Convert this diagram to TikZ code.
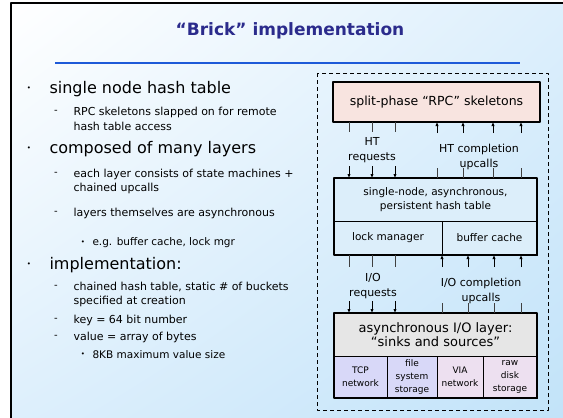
\documentclass[tikz,border=0pt]{standalone}
\usepackage{fontspec}
\setmainfont{DejaVu Sans}
\usetikzlibrary{arrows.meta,positioning,shadings}
\definecolor{brickNavy}{HTML}{2B2B8C}
\definecolor{brickRule}{HTML}{1E5AD8}
\definecolor{brickSky}{HTML}{C2E3F9}
\definecolor{brickSkyTwo}{HTML}{DDEFFC}
\definecolor{brickPink}{HTML}{F8E4E0}
\definecolor{brickIce}{HTML}{DCEEFA}
\definecolor{brickGrey}{HTML}{E6E6E6}
\definecolor{brickLav}{HTML}{D8D8F8}
\definecolor{brickMauve}{HTML}{EDE0F0}

\begin{document}
\begin{tikzpicture}[x=1pt,y=-1pt,>={Latex[length=4pt,width=3.4pt]},line join=round]
\useasboundingbox (0,0) rectangle (563,418);
\shade[upper left=white,upper right=brickSkyTwo,lower left=brickSkyTwo,lower right=brickSky] (11,3) rectangle (563,418);
\draw[line width=2pt] (11,418) -- (11,3) -- (563,3);
\node[text=brickNavy,font=\bfseries\fontsize{17}{20}\selectfont] (title) at (290,31) {“Brick” implementation};
\draw[brickRule,line width=2.2pt] (55,63) -- (520,63);
\tikzset{lvlone/.style={anchor=west,font=\fontsize{16}{18}\selectfont},lvltwo/.style={anchor=west,align=left,font=\fontsize{11}{14.5}\selectfont},lvlthree/.style={anchor=west,font=\fontsize{10.5}{12}\selectfont},bulletmark/.style={font=\fontsize{7}{8}\selectfont},dashmark/.style={font=\fontsize{10}{12}\selectfont}}
% bullet list
\node[bulletmark] (b1) at (29,89) {•}; \node[lvlone] (single) at (46,89) {single node hash table};
\node[dashmark] (d1) at (56,112) {-}; \node[lvltwo] (rpctext) at (70,119) {RPC skeletons slapped on for remote\\hash table access};
\node[bulletmark] (b2) at (29,149) {•}; \node[lvlone] (layers) at (46,149) {composed of many layers};
\node[dashmark] (d2) at (56,174) {-}; \node[lvltwo] (consists) at (70,181.5) {each layer consists of state machines +\\chained upcalls};
\node[dashmark] (d3) at (56,213) {-}; \node[lvltwo] (async) at (70,213) {layers themselves are asynchronous};
\node[bulletmark] (s1) at (83,243) {•}; \node[lvlthree] (eg) at (89,243) {e.g. buffer cache, lock mgr};
\node[bulletmark] (b3) at (29,265) {•}; \node[lvlone] (impl) at (46,265) {implementation:};
\node[dashmark] (d4) at (56,287) {-}; \node[lvltwo] (chained) at (70,294.5) {chained hash table, static \# of buckets\\specified at creation};
\node[dashmark] (d5) at (56,320) {-}; \node[lvltwo] (key) at (70,320) {key = 64 bit number};
\node[dashmark] (d6) at (56,337) {-}; \node[lvltwo] (value) at (70,337) {value = array of bytes};
\node[bulletmark] (s2) at (83,355) {•}; \node[lvlthree] (maxsize) at (89,355) {8KB maximum value size};
% layer diagram
\tikzset{box/.style={draw=black,line width=1pt,inner sep=0pt,outer sep=0pt,align=center,font=\fontsize{10.5}{14}\selectfont},cell/.style={box,minimum height=42,font=\fontsize{9}{13}\selectfont},outline/.style={draw=black,line width=2pt},stub/.style={draw=black!75,line width=0.8pt},arr/.style={draw=black,line width=0.8pt,->},lbl/.style={align=center,font=\fontsize{11}{15}\selectfont}}
\draw[dashed,dash pattern=on 4pt off 3pt,line width=0.9pt] (317,73) rectangle (548,410);
\node[box,outline,fill=brickPink,minimum width=207,minimum height=40,font=\fontsize{12.5}{14}\selectfont] (rpc) at (436.5,102) {split-phase “RPC” skeletons};
\node[box,fill=brickIce,minimum width=203,minimum height=43] (ht) at (435.5,199.5) {single-node, asynchronous,\\persistent hash table};
\node[box,fill=brickIce,minimum width=108,minimum height=34,anchor=north west] (lock) at (ht.south west) {lock manager};
\node[box,fill=brickIce,minimum width=95,minimum height=34,right=0pt of lock] (bufc) {buffer cache};
\draw[outline] (ht.north west) rectangle (bufc.south east);
\node[box,fill=brickGrey,minimum width=203,minimum height=43,font=\fontsize{13}{14.5}\selectfont] (aio) at (435.5,334.5) {asynchronous I/O layer:\\“sinks and sources”};
\node[cell,fill=brickLav,minimum width=53,anchor=north west] (tcp) at (aio.south west) {TCP\\network};
\node[cell,fill=brickLav,minimum width=50,right=0pt of tcp] (fsys) {file\\system\\storage};
\node[cell,fill=brickMauve,minimum width=46,right=0pt of fsys] (via) {VIA\\network};
\node[cell,fill=brickMauve,minimum width=54,right=0pt of via] (rawd) {raw\\disk\\storage};
\draw[outline] (aio.north west) rectangle (rawd.south east);
% HT requests / completion upcalls
\draw[stub] (rpc.south -| 349,0) -- ++(0,10); \draw[arr] ([yshift=12pt]ht.north -| 349,0) -- (ht.north -| 349,0);
\draw[stub] (rpc.south -| 372,0) -- ++(0,10); \draw[arr] ([yshift=12pt]ht.north -| 372,0) -- (ht.north -| 372,0);
\draw[stub] (rpc.south -| 395,0) -- ++(0,10); \draw[arr] ([yshift=12pt]ht.north -| 395,0) -- (ht.north -| 395,0);
\draw[arr] ([yshift=-11pt]rpc.south -| 437,0) -- (rpc.south -| 437,0); \draw[stub] (ht.north -| 437,0) -- ++(0,-10);
\draw[arr] ([yshift=-11pt]rpc.south -| 463,0) -- (rpc.south -| 463,0); \draw[stub] (ht.north -| 463,0) -- ++(0,-10);
\draw[arr] ([yshift=-11pt]rpc.south -| 493,0) -- (rpc.south -| 493,0); \draw[stub] (ht.north -| 493,0) -- ++(0,-10);
\draw[arr] ([yshift=-11pt]rpc.south -| 521,0) -- (rpc.south -| 521,0); \draw[stub] (ht.north -| 521,0) -- ++(0,-10);
\node[lbl] (htreq) at (372,150) {HT\\requests};
\node[lbl] (htup) at (479,156.5) {HT completion\\upcalls};
% I/O requests / completion upcalls
\draw[stub] (lock.south -| 349,0) -- ++(0,12); \draw[arr] ([yshift=12pt]aio.north -| 349,0) -- (aio.north -| 349,0);
\draw[stub] (lock.south -| 372,0) -- ++(0,12); \draw[arr] ([yshift=12pt]aio.north -| 372,0) -- (aio.north -| 372,0);
\draw[stub] (lock.south -| 395,0) -- ++(0,12); \draw[arr] ([yshift=12pt]aio.north -| 395,0) -- (aio.north -| 395,0);
\draw[arr] ([yshift=-12pt]bufc.south -| 442,0) -- (bufc.south -| 442,0); \draw[stub] (aio.north -| 442,0) -- ++(0,-10);
\draw[arr] ([yshift=-12pt]bufc.south -| 468,0) -- (bufc.south -| 468,0); \draw[stub] (aio.north -| 468,0) -- ++(0,-10);
\draw[arr] ([yshift=-12pt]bufc.south -| 494,0) -- (bufc.south -| 494,0); \draw[stub] (aio.north -| 494,0) -- ++(0,-10);
\draw[arr] ([yshift=-12pt]bufc.south -| 521,0) -- (bufc.south -| 521,0); \draw[stub] (aio.north -| 521,0) -- ++(0,-10);
\node[lbl] (ioreq) at (373,286.5) {I/O\\requests};
\node[lbl] (ioup) at (481,291) {I/O completion\\upcalls};
\end{tikzpicture}
\end{document}
